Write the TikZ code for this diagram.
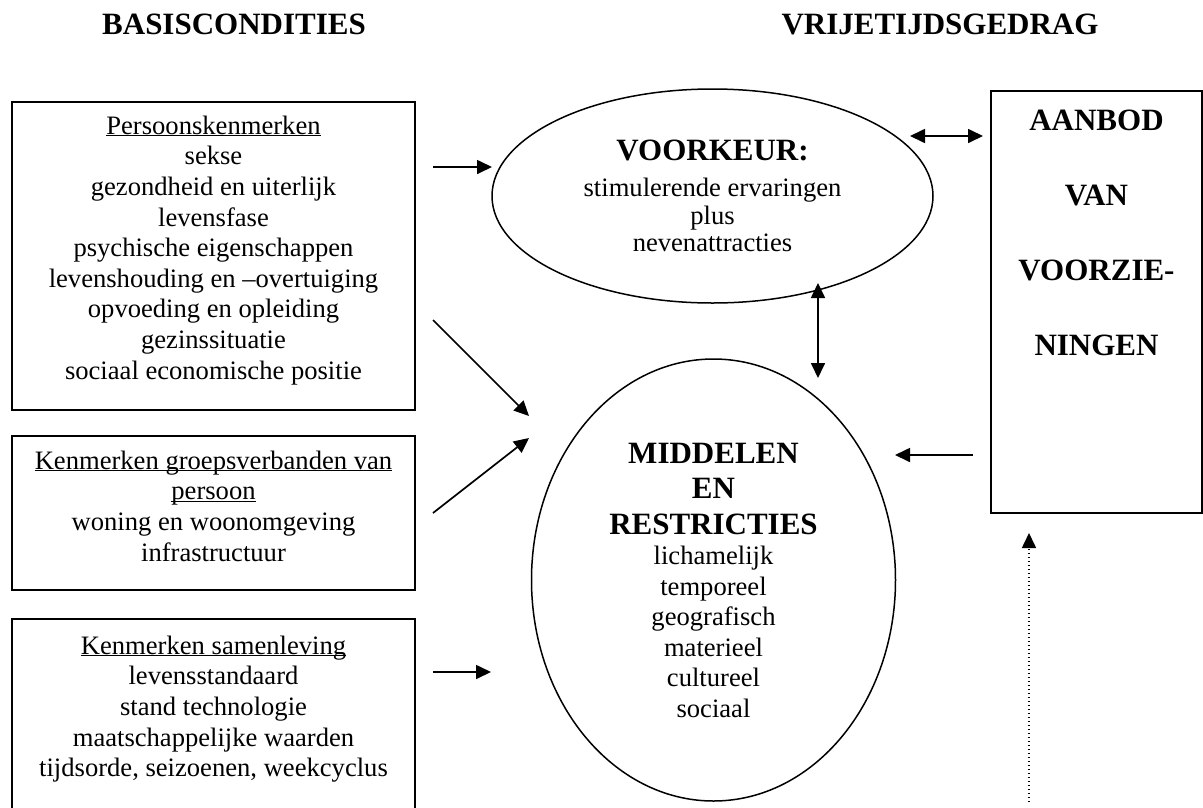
\documentclass[tikz,border=0pt]{standalone}
\usepackage{fontspec}
\setmainfont{Liberation Serif}
\usetikzlibrary{arrows.meta,positioning,shapes.geometric}

\newcommand{\kopletter}{\fontsize{31}{36}\selectfont\bfseries}
\newcommand{\onderstreep}[1]{\underline{\raisebox{0pt}[\height][0pt]{#1}}}

\tikzset{
  kader/.style={draw,line width=1.9pt,outer sep=0pt,minimum width=403pt},
  ovaal/.style={draw,ellipse,line width=1.5pt,outer sep=0pt,align=center,inner sep=0pt,
    font=\fontsize{26.6}{30.5}\selectfont},
  tekst/.style={align=center,inner sep=0pt,outer sep=0pt,
    font=\fontsize{26.6}{30.6}\selectfont},
  kop/.style={inner sep=0pt,outer sep=0pt,font=\kopletter},
  pijl/.style={->,line width=1.7pt},
}

\begin{document}
\begin{tikzpicture}[x=1pt,y=-1pt,>={Triangle[length=15pt,width=14pt]}]
\useasboundingbox (0,0) rectangle (1203,807);
\clip (0,0) rectangle (1203,807);

% kopjes
\node[kop] (basis) at (234,24) {BASISCONDITIES};
\node[kop] (vrije) at (940,24) {VRIJETIJDSGEDRAG};

% basiscondities
\node[kader,minimum height=308pt] (pers) at (213.5,256) {};
\node[tekst,below=13.8pt of pers.north] (perstxt) {\onderstreep{Persoonskenmerken}\\sekse\\gezondheid en uiterlijk\\levensfase\\psychische eigenschappen\\levenshouding en –overtuiging\\opvoeding en opleiding\\gezinssituatie\\sociaal economische positie};

\node[kader,minimum height=154pt] (groep) at (213.5,513) {};
\node[tekst,below=14.8pt of groep.north] (groeptxt) {\onderstreep{Kenmerken groepsverbanden van}\\\onderstreep{persoon}\\woning en woonomgeving\\infrastructuur};

\node[kader,minimum height=211pt] (samenl) at (213.5,724.5) {};
\node[tekst,below=16.8pt of samenl.north] (samenltxt) {\onderstreep{Kenmerken samenleving}\\levensstandaard\\stand technologie\\maatschappelijke waarden\\tijdsorde, seizoenen, weekcyclus};

% vrijetijdsgedrag
\node[ovaal,minimum width=441pt,minimum height=214pt,font=\fontsize{26.6}{27.5}\selectfont] (voork) at (712.5,196)
  {{\kopletter VOORKEUR:}\\[8.5pt]stimulerende ervaringen\\plus\\nevenattracties};
\node[ovaal,minimum width=364pt,minimum height=442pt] (midd) at (713.5,580)
  {{\kopletter MIDDELEN}\\[5pt]{\kopletter EN}\\[5pt]{\kopletter RESTRICTIES}\\lichamelijk\\temporeel\\geografisch\\materieel\\cultureel\\sociaal};

\node[kader,minimum width=211pt,minimum height=422pt] (aanbod) at (1096.5,302) {};
\node[kop,align=center,font=\fontsize{31}{75}\selectfont\bfseries,below=19pt of aanbod.north] (aanbodtxt) {AANBOD\\VAN\\VOORZIE-\\NINGEN};

% pijlen
\draw[pijl] ([shift={(18,65)}]pers.north east) -- ([shift={(0,-29)}]voork.west);
\draw[pijl] ([shift={(18,218)}]pers.north east) -- ([shift={(-2.5,-164)}]midd.west);
\draw[pijl] ([shift={(18,77)}]groep.north east) -- ([shift={(-2.5,-142)}]midd.west);
\draw[pijl] ([shift={(18,53)}]samenl.north east) -- ([shift={(-40.5,92)}]midd.west);
\draw[pijl,<->] ([shift={(-23,-60)}]voork.east) -- ([shift={(-8,-166)}]aanbod.west);
\draw[pijl,<->] ([shift={(105.5,-20)}]voork.south) -- ([shift={(104.5,19)}]midd.north);
\draw[pijl] ([shift={(-18,153)}]aanbod.west) -- ([shift={(-0.5,-125)}]midd.east);
\draw[pijl,line width=1.6pt,dash pattern=on 1.5pt off 2.5pt] ([shift={(38,289)}]aanbod.south west) -- ([shift={(38,20)}]aanbod.south west);
\end{tikzpicture}
\end{document}
